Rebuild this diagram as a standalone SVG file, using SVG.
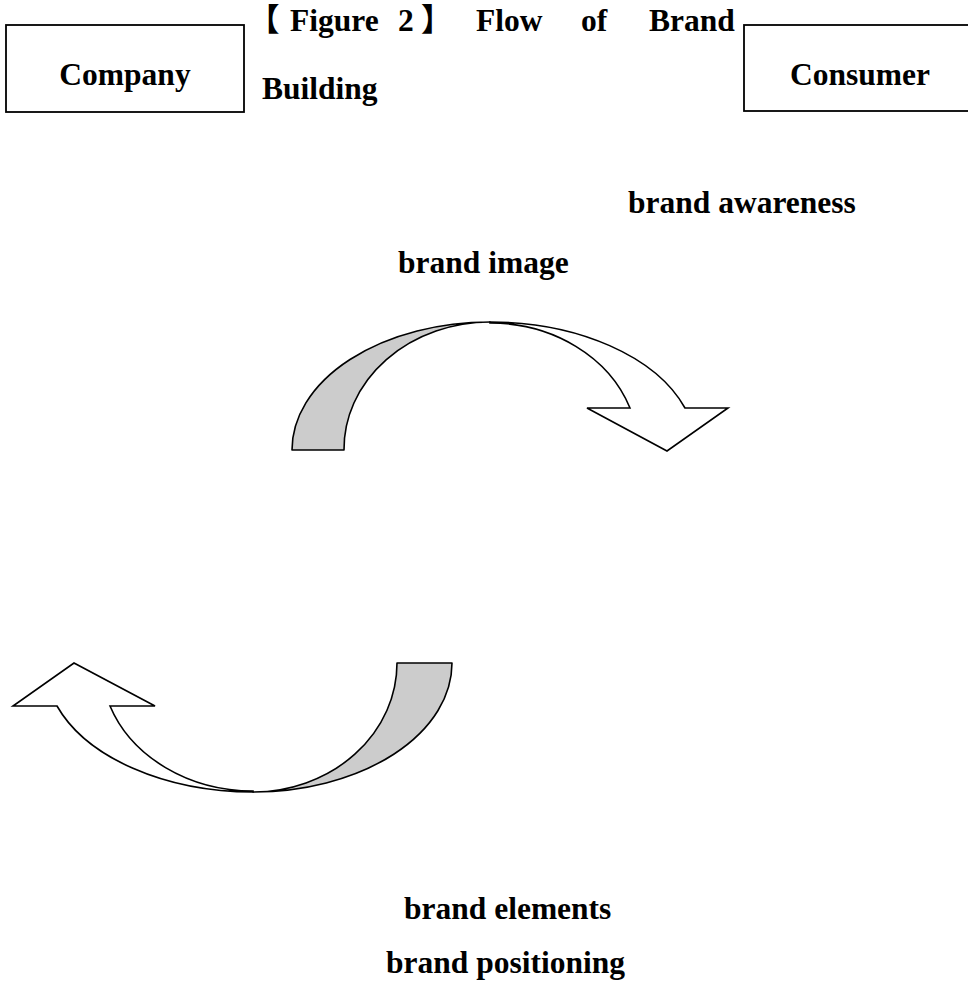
<svg xmlns="http://www.w3.org/2000/svg" width="968" height="983" viewBox="0 0 968 983">
<style>
text{font-family:"Liberation Serif","Noto Sans CJK SC",serif;font-weight:bold;font-size:31.5px;fill:#000}
.box{fill:#fff;stroke:#000;stroke-width:1.8}
.band{fill:#cccccc;stroke:#000;stroke-width:1.6;stroke-linejoin:round}
.front{fill:#fff;stroke:#000;stroke-width:1.6;stroke-linejoin:miter}
</style>
<rect width="968" height="983" fill="#fff"/>
<g id="company">
<rect class="box" x="6" y="25" width="238" height="87"/>
<text x="125" y="85" text-anchor="middle">Company</text>
</g>
<g id="consumer">
<rect class="box" x="744" y="25" width="240" height="86"/>
<text x="860" y="85" text-anchor="middle">Consumer</text>
</g>
<g id="title">
<text y="31"><tspan x="248">【</tspan><tspan x="290">Figure</tspan><tspan x="398">2</tspan><tspan x="421">】</tspan><tspan x="476">Flow</tspan><tspan x="581">of</tspan><tspan x="649">Brand</tspan></text>
<text x="262" y="99">Building</text>
</g>
<g id="labels">
<text x="628" y="213">brand awareness</text>
<text x="398" y="273">brand image</text>
<text x="404" y="919">brand elements</text>
<text x="386" y="973">brand positioning</text>
</g>
<g id="connectors">
<g id="arrow-top">
<path class="band" d="M292,450 A198,128 0 0 1 490,322 A146,127 0 0 0 344,450 Z"/>
<path class="front" d="M490,322 A206,128 0 0 1 685,408 L728,408 L667,451 L587,408 L630,408 A148,127 0 0 0 490,323 Z"/>
</g>
<g id="arrow-bottom">
<path class="band" d="M397,663 L452,663 A199,129 0 0 1 253,792 A144,129 0 0 0 397,663 Z"/>
<path class="front" d="M253,792 A208,129 0 0 1 57,706 L13,706 L74,663 L155,706 L110,706 A152,128 0 0 0 253,791 Z"/>
</g>
</g>
</svg>
